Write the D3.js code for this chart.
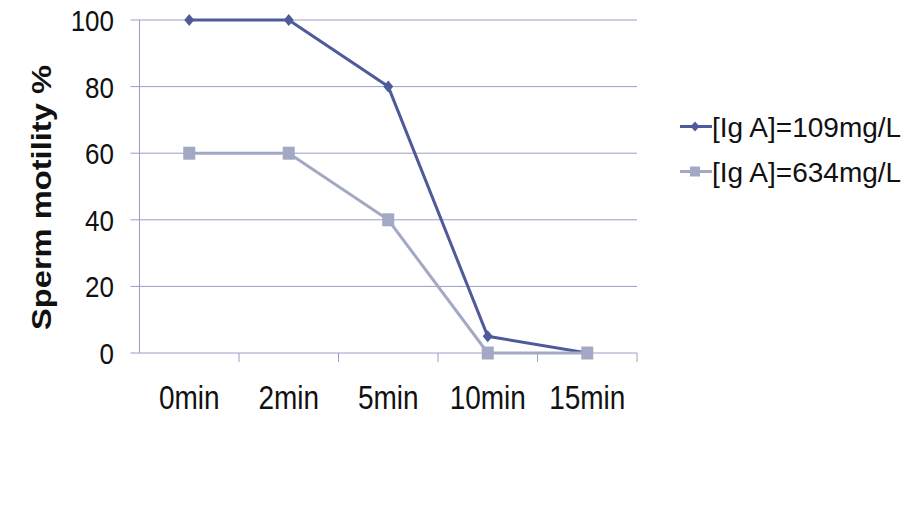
<!DOCTYPE html>
<html><head><meta charset="utf-8">
<script src="https://cdn.jsdelivr.net/npm/d3@7"></script>
<style>body{margin:0;background:#fff}text{font-family:"Liberation Sans",Arial,sans-serif}</style>
</head><body>
<svg id="c" width="905" height="511"></svg>
<script>
const categories = ["0min","2min","5min","10min","15min"];
const seriesNames = ["[Ig A]=109mg/L","[Ig A]=634mg/L"];
const series1 = [100,100,80,5,0];
const series2 = [60,60,40,0,0];
const yTicks = [0,20,40,60,80,100];
const colors = ["#4e5a9a","#a3a9c4"];

const svg = d3.select("#c");
const L=139.5, R=637, T=20, B=353;
const x = d3.scaleBand().domain(categories).range([L,R]);
const y = d3.scaleLinear().domain([0,100]).range([B,T]);
const grid="#9c9cc8";

svg.append("g").selectAll("line").data(yTicks).join("line")
  .attr("x1",L-9).attr("x2",R).attr("y1",d=>y(d)).attr("y2",d=>y(d))
  .attr("stroke",grid).attr("stroke-width",1);
svg.append("line").attr("x1",L).attr("x2",L).attr("y1",T).attr("y2",B).attr("stroke",grid);
const bounds = categories.map(c=>x(c)+x.bandwidth());
svg.append("g").selectAll("line").data(bounds).join("line")
  .attr("x1",d=>d).attr("x2",d=>d).attr("y1",B).attr("y2",B+9).attr("stroke",grid);

svg.append("g").selectAll("text").data(yTicks).join("text")
  .attr("transform",d=>`translate(114,${y(d)}) scale(1,1.17)`)
  .attr("dy","0.36em").attr("text-anchor","end")
  .attr("font-size",26).attr("fill","#111").text(d=>d);
svg.append("g").selectAll("text").data(categories).join("text")
  .attr("transform",d=>`translate(${x(d)+x.bandwidth()/2},409) scale(1,1.18)`)
  .attr("text-anchor","middle")
  .attr("font-size",28).attr("fill","#111").text(d=>d);
svg.append("text").attr("transform","translate(51,197.5) rotate(-90)")
  .attr("text-anchor","middle").attr("font-size",27).attr("font-weight","bold").attr("fill","#111")
  .attr("textLength",265).attr("lengthAdjust","spacingAndGlyphs")
  .text("Sperm motility %");

const cx = (i)=>x(categories[i])+x.bandwidth()/2;
const line = d3.line().x((d,i)=>cx(i)).y(d=>y(d));
// series 1
svg.append("path").datum(series1).attr("d",line).attr("fill","none")
  .attr("stroke",colors[0]).attr("stroke-width",3);
svg.append("g").selectAll("path").data(series1).join("path")
  .attr("d","M0,-6L5,0L0,6L-5,0Z")
  .attr("transform",(d,i)=>`translate(${cx(i)},${y(d)})`)
  .attr("fill",colors[0]);
// series 2
svg.append("path").datum(series2).attr("d",line).attr("fill","none")
  .attr("stroke",colors[1]).attr("stroke-width",3);
svg.append("g").selectAll("rect").data(series2).join("rect")
  .attr("x",(d,i)=>cx(i)-6).attr("y",d=>y(d)-6.5)
  .attr("width",12).attr("height",13).attr("fill",colors[1]);

const lg = svg.append("g");
seriesNames.forEach((n,k)=>{
  const ly = 126.5 + k*45;
  lg.append("line").attr("x1",680).attr("x2",712).attr("y1",ly).attr("y2",ly)
    .attr("stroke",colors[k]).attr("stroke-width",3);
  if(k===0) lg.append("path").attr("d","M0,-5L4.5,0L0,5L-4.5,0Z").attr("transform",`translate(695,${ly})`).attr("fill",colors[0]);
  else lg.append("rect").attr("x",690).attr("y",ly-5).attr("width",10).attr("height",10).attr("fill",colors[1]);
  lg.append("text").attr("x",712).attr("y",ly).attr("dy","0.36em").attr("font-size",28).attr("fill","#111").text(n);
});
</script>
</body></html>
